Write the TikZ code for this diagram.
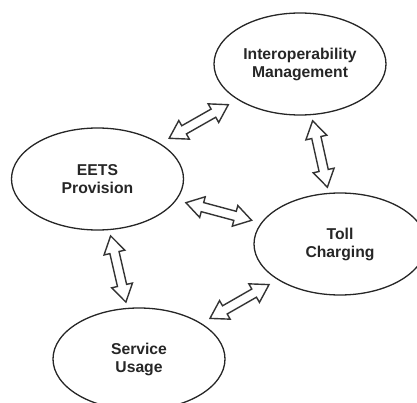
\documentclass[tikz,border=0pt]{standalone}
\usepackage{fontspec}
\setmainfont{Liberation Sans}
\usetikzlibrary{shapes.geometric,shapes.arrows}
\begin{document}
\begin{tikzpicture}[x=1pt,y=-1pt,
  area/.style={draw=black!85,line width=1.3pt,ellipse,minimum width=172pt,minimum height=102pt,inner sep=0pt,align=center,font=\fontsize{15.7}{18}\selectfont\bfseries,text=black!85},
  link/.style={draw=black!80,line width=1.4pt,fill=white,double arrow,sloped,minimum height=68pt,inner sep=4pt,double arrow head extend=6pt,double arrow tip angle=64}]
\useasboundingbox(0,0)rectangle(417,403);
\clip(0,0)rectangle(417,403);
\node[area](im)at(300,64){Interoperability\\Management};
\node[area](eets)at(97.5,179){EETS\\Provision};
\node[area](toll)at(340,244){Toll\\Charging};
\node[area](use)at(139,359){Service\\Usage};
\path(eets)--node[link]{}(im);
\path(im)--node[link]{}(toll);
\path(eets)--node[link]{}(toll);
\path(eets)--node[link]{}(use);
\path(use)--node[link]{}(toll);
\end{tikzpicture}
\end{document}
